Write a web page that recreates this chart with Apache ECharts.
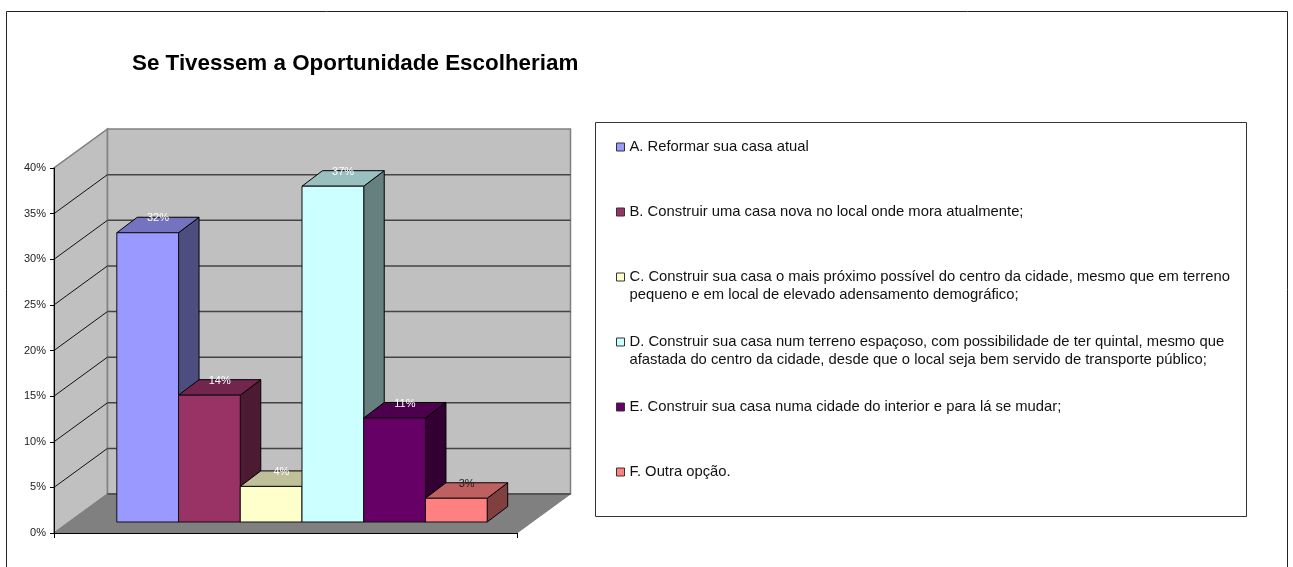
<!DOCTYPE HTML>
<html>

<head>
    <meta http-equiv="content-type" content="text/html;charset=utf-8">
    <title>Se Tivessem a Oportunidade Escolheriam</title>
    <script src="https://cdn.jsdelivr.net/npm/echarts@6/dist/echarts.min.js"></script>
    <style>
        html, body { margin: 0; padding: 0; background: #fff; }
        #main { width: 1293px; height: 567px; }
    </style>
</head>

<body>
    <div id="main"></div>
    <script>
        var titleText = 'Se Tivessem a Oportunidade Escolheriam';
        var names = [
            'A. Reformar sua casa atual',
            'B. Construir uma casa nova no local onde mora atualmente;',
            'C. Construir sua casa o mais próximo possível do centro da cidade, mesmo que em terreno\npequeno e em local de elevado adensamento demográfico;',
            'D. Construir sua casa num terreno espaçoso, com possibilidade de ter quintal, mesmo que\nafastada do centro da cidade, desde que o local seja bem servido de transporte público;',
            'E. Construir sua casa numa cidade do interior e para lá se mudar;',
            'F. Outra opção.'
        ];
        var values = [31.7, 13.9, 3.9, 36.8, 11.4, 2.6];
        var labels = ['32%', '14%', '4%', '37%', '11%', '3%'];
        var labelColors = ['#fff', '#fff', '#fff', '#fff', '#fff', '#222'];
        var colors = ['#9999FF', '#993366', '#FFFFCC', '#CCFFFF', '#660066', '#FF8080'];
        var topColors = ['#7373BF', '#73264D', '#BFBF99', '#99BFBF', '#4D004D', '#BF6060'];
        var sideColors = ['#4D4D80', '#4D1A33', '#808066', '#668080', '#330033', '#804040'];
        var yTicks = [0, 5, 10, 15, 20, 25, 30, 35, 40];

        // 3d look: how far the back wall and the bars are pushed, in px
        var wallDepth = [53.5, -39];
        var barShift = [16.5, -11];
        var barDepth = [20.5, -15.5];
        var groupRatio = 0.8;

        function poly(pts, fill, stroke, width) {
            return {
                type: 'polygon',
                shape: { points: pts },
                style: { fill: fill, stroke: stroke, lineWidth: width === undefined ? 1 : width }
            };
        }

        function segment(x1, y1, x2, y2, color, width) {
            return {
                type: 'line',
                shape: { x1: x1, y1: y1, x2: x2, y2: y2 },
                style: { stroke: color, lineWidth: width || 1 }
            };
        }

        function renderWalls(params, api) {
            var dx = wallDepth[0], dy = wallDepth[1];
            var band = api.size([1, 0])[0];
            var bottom = api.coord([0, yTicks[0]]);
            var top = api.coord([0, yTicks[yTicks.length - 1]]);
            var xl = bottom[0] - band / 2, xr = bottom[0] + band / 2;
            var kids = [
                poly([[xl, bottom[1]], [xl + dx, bottom[1] + dy], [xl + dx, top[1] + dy], [xl, top[1]]], '#C0C0C0', '#808080', 1.5),
                poly([[xl + dx, bottom[1] + dy], [xr + dx, bottom[1] + dy], [xr + dx, top[1] + dy], [xl + dx, top[1] + dy]], '#C0C0C0', '#808080', 1.5),
                poly([[xl, bottom[1]], [xr, bottom[1]], [xr + dx, bottom[1] + dy], [xl + dx, bottom[1] + dy]], '#808080', '#808080')
            ];
            yTicks.forEach(function (t) {
                var y = api.coord([0, t])[1];
                if (t > 0 && t < 40) {
                    kids.push(segment(xl, y, xl + dx, y + dy, '#111'));
                    kids.push(segment(xl + dx, y + dy, xr + dx, y + dy, '#444', 1.5));
                }
            });
            kids.push(segment(xl + dx, bottom[1] + dy, xr + dx, bottom[1] + dy, '#444', 1.5));
            return { type: 'group', children: kids };
        }

        function barRenderer(i) {
            return function (params, api) {
                var band = api.size([1, 0])[0];
                var w = band * groupRatio / names.length;
                var c = api.coord([0, api.value(1)]);
                var c0 = api.coord([0, 0]);
                var x0 = c[0] + barShift[0] + (i - names.length / 2) * w;
                var x1 = x0 + w;
                var yt = c[1] + barShift[1];
                var yb = c0[1] + barShift[1];
                var dx = barDepth[0], dy = barDepth[1];
                return {
                    type: 'group',
                    children: [
                        poly([[x1, yb], [x1 + dx, yb + dy], [x1 + dx, yt + dy], [x1, yt]], sideColors[i], '#000'),
                        poly([[x0, yt], [x1, yt], [x1 + dx, yt + dy], [x0 + dx, yt + dy]], topColors[i], '#000'),
                        poly([[x0, yb], [x1, yb], [x1, yt], [x0, yt]], colors[i], '#111'),
                        {
                            type: 'text',
                            style: {
                                x: (x0 + x1 + dx) / 2,
                                y: yt + dy + 1,
                                text: labels[i],
                                fill: labelColors[i],
                                font: '11px "Liberation Sans", Arial, sans-serif',
                                align: 'center',
                                verticalAlign: 'middle'
                            }
                        }
                    ]
                };
            };
        }

        var series = [{
            type: 'custom',
            name: 'walls',
            silent: true,
            z: 1,
            data: [[0, 0]],
            renderItem: renderWalls
        }];
        names.forEach(function (name, i) {
            series.push({
                type: 'custom',
                name: name,
                silent: true,
                z: 2,
                itemStyle: { color: colors[i] },
                data: [[0, values[i]]],
                renderItem: barRenderer(i)
            });
        });

        var myChart = echarts.init(document.getElementById('main'));
        myChart.setOption({
            animation: false,
            backgroundColor: '#fff',
            textStyle: { fontFamily: '"Liberation Sans", Arial, sans-serif' },
            title: {
                text: titleText,
                left: 132,
                top: 53,
                padding: 0,
                textStyle: { fontSize: 22.4, fontWeight: 'bold', color: '#000', fontFamily: '"Liberation Sans", Arial, sans-serif' }
            },
            grid: { left: 54, top: 168, width: 463, height: 365 },
            xAxis: {
                type: 'category',
                data: [''],
                z: 10,
                axisLine: { lineStyle: { color: '#000', width: 1 } },
                axisTick: { show: true, length: 5, lineStyle: { color: '#000' } },
                axisLabel: { show: false }
            },
            yAxis: {
                type: 'value',
                min: 0,
                max: 40,
                interval: 5,
                z: 10,
                axisLine: { show: true, lineStyle: { color: '#000', width: 1 } },
                axisTick: { show: true, length: 4, lineStyle: { color: '#000' } },
                axisLabel: { formatter: '{value}%', fontSize: 11, color: '#222', margin: 8, fontFamily: '"Liberation Sans", Arial, sans-serif' },
                splitLine: { show: false }
            },
            legend: {
                orient: 'vertical',
                left: 616,
                top: 120,
                padding: 0,
                align: 'left',
                icon: 'rect',
                itemWidth: 8,
                itemHeight: 8,
                itemGap: 11,
                selectedMode: false,
                itemStyle: { borderColor: '#333', borderWidth: 1 },
                textStyle: { fontSize: 14.8, color: '#111', lineHeight: 18, fontFamily: '"Liberation Sans", Arial, sans-serif' },
                // blank lines keep every row 3 lines tall and the icon level with the first text line
                formatter: function (name) {
                    return name.indexOf('\n') > 0 ? '\n' + name : '\n' + name + '\n';
                },
                data: names
            },
            graphic: [
                {
                    type: 'rect',
                    silent: true,
                    z: -1,
                    shape: { x: 6.5, y: 11.5, width: 1281, height: 600 },
                    style: { fill: '#fff', stroke: '#222', lineWidth: 1 }
                },
                {
                    type: 'rect',
                    silent: true,
                    z: -1,
                    shape: { x: 595.5, y: 122.5, width: 651, height: 394 },
                    style: { fill: '#fff', stroke: '#333', lineWidth: 1 }
                }
            ],
            series: series
        });
    </script>
</body>

</html>
